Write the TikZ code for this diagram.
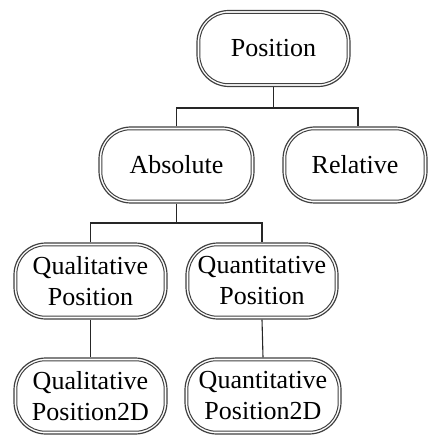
\documentclass[tikz,border=0pt]{standalone}
\usepackage{fontspec}
\setmainfont{Liberation Serif}
\begin{document}
\begin{tikzpicture}[x=1pt,y=-1pt,
  concept/.style={draw=black!75, line width=1.2pt, rounded corners=32pt,
    align=center, font=\fontsize{26}{31}\selectfont,
    inner sep=0pt, outer sep=0.6pt, minimum height=76pt},
  innerline/.style={draw=black!75, line width=1pt, rounded corners=28.5pt},
  link/.style={draw=black!85, line width=1.1pt}]
\useasboundingbox (0,0) rectangle (430,435);

% concept hierarchy
\node[concept, minimum width=153pt] (pos) at (273.5,48.5) {Position};
\node[concept, minimum width=155pt] (abs) at (176.5,165) {Absolute};
\node[concept, minimum width=144pt] (rel) at (355,165) {Relative};
\node[concept, minimum width=153pt] (qual) at (90.5,281) {Qualitative\\Position};
\node[concept, minimum width=152pt] (quant) at (262,281) {Quantitative\\Position};
\node[concept, minimum width=153pt] (qual2d) at (90.5,396) {Qualitative\\Position2D};
\node[concept, minimum width=156pt] (quant2d) at (263,396) {Quantitative\\Position2D};

% second, inner outline of every concept box
\foreach \n in {pos,abs,rel,qual,quant,qual2d,quant2d}
  \draw[innerline] ([shift={(3.4pt,-3.4pt)}]\n.north west) rectangle
                   ([shift={(-3.4pt,3.4pt)}]\n.south east);

% junction points of the tree connectors
\coordinate (j1) at (273.5,108);
\coordinate (j2) at (176.5,223);

\draw[link] (pos.south) -- (j1);
\draw[link] (abs.north) |- (j1) -| ([xshift=3pt]rel.north);
\draw[link] (abs.south) -- (j2);
\draw[link] (qual.north) |- (j2) -| (quant.north);
\draw[link] (qual.south) -- (qual2d.north);
\draw[link] (quant.south) -- (quant2d.north);
\end{tikzpicture}
\end{document}
